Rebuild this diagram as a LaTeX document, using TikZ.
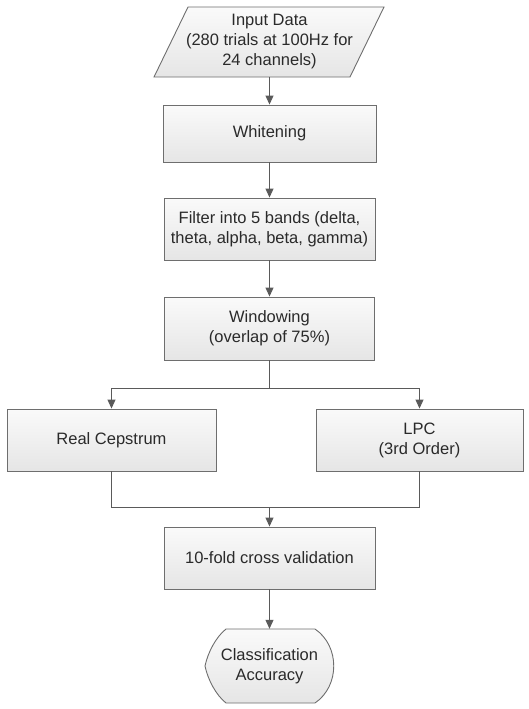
\documentclass[tikz,border=0pt]{standalone}
\usepackage{fontspec}
\setmainfont{Liberation Sans}
\usetikzlibrary{arrows.meta}
\definecolor{linec}{HTML}{6E6E6E}
\definecolor{arrc}{HTML}{5A5A5A}
\definecolor{txt}{HTML}{2A2A2A}
\newcommand{\fs}{\fontsize{16.5}{20}\selectfont}
\tikzset{
  fillshade/.style={top color=white!98!black, bottom color=white!90!black, draw=linec, line width=0.9pt},
  stepbox/.style={fillshade, rectangle, minimum width=210pt, minimum height=62pt, align=center, text=txt, font=\fs, inner sep=2pt},
  txtonly/.style={align=center, text=txt, font=\fs, inner sep=0pt},
  conn/.style={draw=arrc, line width=1pt},
  arr/.style={conn, -{Triangle[width=8pt,length=9pt]}}
}
\begin{document}
\begin{tikzpicture}[x=1pt,y=-1pt]
\useasboundingbox (0,0) rectangle (528,709);
% input parallelogram
\path[fillshade] (154,77) -- (188,7) -- (384,7) -- (350,77) -- cycle;
\node[txtonly, minimum width=196pt, minimum height=70pt] (input) at (269.5,42) {Input Data\\(280 trials at 100Hz for\\24 channels)};
\node[stepbox, minimum width=213pt, minimum height=57pt] (whiten) at (269.5,133.5) {Whitening};
\node[stepbox, minimum width=211pt] (filter) at (269.5,229) {Filter into 5 bands (delta,\\theta, alpha, beta, gamma)};
\node[stepbox, minimum height=63pt] (window) at (269.5,328.5) {Windowing\\(overlap of 75\%)};
\node[stepbox, minimum width=209pt] (real) at (111.5,440) {Real Cepstrum};
\node[stepbox, minimum width=207pt] (lpc) at (419.5,440) {LPC\\(3rd Order)};
\node[stepbox, minimum width=211pt] (tenfold) at (269.5,558) {10-fold cross validation};
% display shape
\path[fillshade] (226,629) -- (315,629) .. controls (340,646) and (340,686) .. (315,703) -- (226,703) .. controls (216,695) and (208,680) .. (205,666) .. controls (208,652) and (216,637) .. (226,629) -- cycle;
\node[txtonly, minimum width=100pt, minimum height=74pt] (acc) at (269.5,666) {Classification\\Accuracy};
\coordinate (split) at (269.5,388);
\coordinate (join) at (269.5,507);
\draw[arr] (input.south) -- (whiten.north);
\draw[arr] (whiten.south) -- (filter.north);
\draw[arr] (filter.south) -- (window.north);
\draw[conn] (window.south) -- (split);
\draw[arr] (split) -| (real.north);
\draw[arr] (split) -| (lpc.north);
\draw[conn] (real.south) |- (join);
\draw[conn] (lpc.south) |- (join);
\draw[arr] (join) -- (tenfold.north);
\draw[arr] (tenfold.south) -- (acc.north);
\end{tikzpicture}
\end{document}
